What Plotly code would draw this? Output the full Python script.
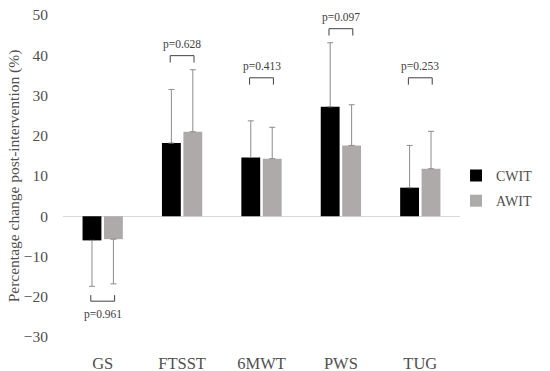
import plotly.graph_objects as go

categories = ["GS", "FTSST", "6MWT", "PWS", "TUG"]
cwit = [-6.0, 18.2, 14.6, 27.2, 7.1]
awit = [-5.7, 21.0, 14.3, 17.6, 11.8]
cwit_sd = [11.4, 13.3, 9.1, 15.9, 10.5]
awit_sd = [11.1, 15.4, 7.8, 10.1, 9.3]
p_values = ["p=0.961", "p=0.628", "p=0.413", "p=0.097", "p=0.253"]
bracket_y = [-21.1, 39.9, 34.4, 46.6, 34.4]

FONT = "Liberation Serif"
GRAY = "#505050"

def err(vals, sds):
    up = [s if v >= 0 else 0 for v, s in zip(vals, sds)]
    down = [s if v < 0 else 0 for v, s in zip(vals, sds)]
    return dict(type="data", symmetric=False, array=up, arrayminus=down,
                color="#8c8c8c", thickness=1, width=3)

fig = go.Figure()
fig.add_trace(go.Bar(x=categories, y=cwit, name="CWIT", marker_color="#000000",
                     marker_line_width=0, error_y=err(cwit, cwit_sd), legendgroup="a"))
fig.add_trace(go.Bar(x=categories, y=awit, name="AWIT", marker_color="#aeaaaa",
                     marker_line_width=0, error_y=err(awit, awit_sd), legendgroup="b"))

shapes = []
annotations = []
for i, (p, by) in enumerate(zip(p_values, bracket_y)):
    x0, x1 = i - 0.15, i + 0.15
    leg = 1.7 if by > 0 else -1.5
    yl = by - leg
    lc = dict(color="#404040", width=1)
    shapes.append(dict(type="line", xref="x", yref="y", x0=x0, x1=x1, y0=by, y1=by, line=lc))
    shapes.append(dict(type="line", xref="x", yref="y", x0=x0, x1=x0, y0=by, y1=yl, line=lc))
    shapes.append(dict(type="line", xref="x", yref="y", x0=x1, x1=x1, y0=by, y1=yl, line=lc))
    ty = by + 2.8 if by > 0 else by - 3.3
    annotations.append(dict(x=i, y=ty, xref="x", yref="y", text=p, showarrow=False,
                            font=dict(family=FONT, size=11.5, color="#404040")))

fig.update_layout(
    width=550, height=371,
    margin=dict(l=63, r=72, t=15, b=34),
    paper_bgcolor="white", plot_bgcolor="white",
    barmode="group", bargap=0.46, bargroupgap=0.12,
    shapes=shapes, annotations=annotations,
    font=dict(family=FONT, color=GRAY),
    showlegend=True,
    legend=dict(x=0.99, y=0.55, xanchor="left", yanchor="top",
                bgcolor="rgba(0,0,0,0)", font=dict(family=FONT, size=14, color=GRAY),
                tracegroupgap=4, traceorder="grouped", itemwidth=30),
)
fig.update_xaxes(showgrid=False, showline=False, ticks="", ticklabelstandoff=14,
                 automargin=False,
                 tickfont=dict(family=FONT, size=16.5, color=GRAY), zeroline=False)
fig.update_yaxes(range=[-30, 50], dtick=10, showgrid=False, showline=False, ticks="",
                 automargin=False,
                 zeroline=True, zerolinecolor="#d9d9d9", zerolinewidth=1,
                 tickfont=dict(family=FONT, size=15.5, color=GRAY), ticklabelstandoff=14,
                 title=dict(text="Percentage change post-intervention (%)",
                            font=dict(family=FONT, size=15.5, color=GRAY), standoff=0))

fig.write_html("out.html", config={"displayModeBar": False},
               post_script="document.body.style.margin='0';")
